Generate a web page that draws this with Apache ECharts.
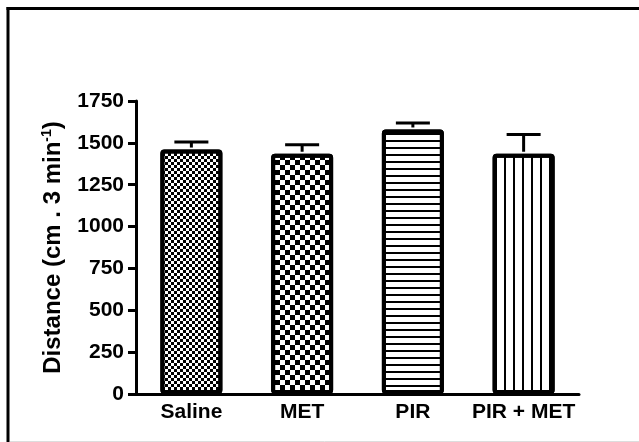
<!DOCTYPE html>
<html>
<head>
<meta charset="utf-8">
<style>html,body{margin:0;padding:0;background:#fff;}#c{width:639px;height:442px;}</style>
<script src="https://cdn.jsdelivr.net/npm/echarts@6/dist/echarts.min.js"></script>
</head>
<body>
<div id="c"></div>
<script>
const categories = ['Saline', 'MET', 'PIR', 'PIR + MET'];
const means = [1460, 1435, 1580, 1435];
const errUpper = [1505, 1488, 1618, 1550];
const yTicks = [0, 250, 500, 750, 1000, 1250, 1500, 1750];

const decals = [
  { symbol: 'rect', symbolSize: 1, color: '#000', dashArrayX: [[2.5, 2.5], [0, 2.5, 2.5, 0]], dashArrayY: [2.5, 0] },
  { symbol: 'rect', symbolSize: 1, color: '#000', dashArrayX: [[4.5, 4.5], [0, 4.5, 4.5, 0]], dashArrayY: [4.5, 0] },
  { symbol: 'rect', symbolSize: 1, color: '#000', dashArrayX: [1, 0], dashArrayY: [1.5, 4.2] },
  { symbol: 'rect', symbolSize: 1, color: '#000', dashArrayX: [1.5, 6.8], dashArrayY: [1, 0] }
];

const font = '"Liberation Sans", Arial, sans-serif';
const chart = echarts.init(document.getElementById('c'), null, { renderer: 'canvas' });
chart.setOption({
  animation: false,
  backgroundColor: '#fff',
  grid: { left: 136, right: 60, top: 101, bottom: 48, containLabel: false },
  graphic: [
    { type: 'line', shape: { x1: 8, y1: 7, x2: 8, y2: 442 }, style: { stroke: '#000', lineWidth: 3 } },
    { type: 'line', shape: { x1: 6.5, y1: 8.5, x2: 639, y2: 8.5 }, style: { stroke: '#000', lineWidth: 3 } },
    { type: 'line', shape: { x1: 10, y1: 441.5, x2: 639, y2: 441.5 }, style: { stroke: '#ddd', lineWidth: 1 } }
  ],
  xAxis: {
    type: 'category',
    data: categories,
    axisLine: { lineStyle: { color: '#000', width: 3 } },
    axisTick: { alignWithLabel: true, length: 8, interval: 0, lineStyle: { color: '#000', width: 3 } },
    axisLabel: { interval: 0, color: '#000', fontWeight: 'bold', fontSize: 21, fontFamily: font, margin: 8 }
  },
  yAxis: {
    type: 'value',
    min: 0, max: 1750, interval: 250,
    name: '{a|Distance (cm . 3 min}{s|-1}{a|)}',
    nameLocation: 'middle',
    nameGap: 70,
    nameRotate: 90,
    nameTextStyle: {
      rich: {
        a: { fontSize: 24, fontWeight: 'bold', color: '#000', fontFamily: font },
        s: { fontSize: 14, fontWeight: 'bold', color: '#000', fontFamily: font, verticalAlign: 'top', padding: [0, 0, 12, 0] }
      }
    },
    axisLine: { show: true, lineStyle: { color: '#000', width: 3 } },
    axisTick: { show: true, length: 8, lineStyle: { color: '#000', width: 3 } },
    splitLine: { show: false },
    axisLabel: {
      color: '#000', fontWeight: 'bold', fontSize: 21, fontFamily: font, margin: 12,
      formatter: v => yTicks.includes(v) ? String(v) : ''
    }
  },
  series: [
    {
      type: 'bar',
      barWidth: 62,
      data: means.map((v, i) => ({
        value: v,
        itemStyle: { color: '#fff', borderColor: '#000', borderWidth: 4, borderRadius: 2, decal: decals[i] }
      })),
      z: 2
    },
    {
      type: 'custom',
      z: 3,
      data: categories.map((c, i) => [i, means[i], errUpper[i]]),
      renderItem: function (params, api) {
        const i = api.value(0);
        const top = api.coord([i, api.value(2)]);
        const base = api.coord([i, api.value(1)]);
        const hw = 17;
        return {
          type: 'group',
          children: [
            { type: 'line', shape: { x1: top[0], y1: base[1] - 2, x2: top[0], y2: top[1] }, style: { stroke: '#000', lineWidth: 3 } },
            { type: 'line', shape: { x1: top[0] - hw, y1: top[1], x2: top[0] + hw, y2: top[1] }, style: { stroke: '#000', lineWidth: 3 } }
          ]
        };
      }
    }
  ]
});
</script>
</body>
</html>
